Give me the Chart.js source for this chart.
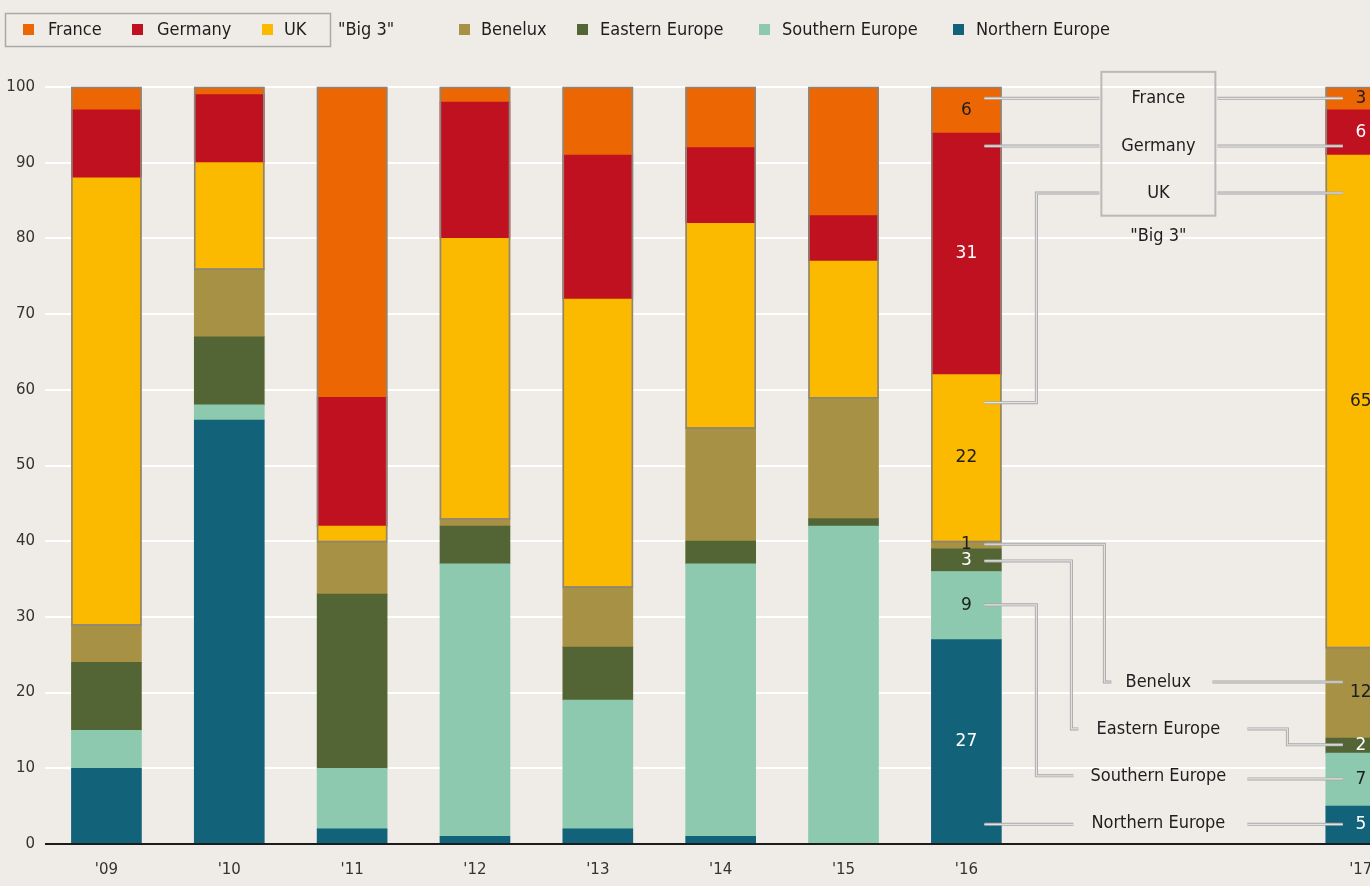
<!DOCTYPE html>
<html><head><meta charset="utf-8">
<script src="https://cdn.jsdelivr.net/npm/chart.js@4.4.0/dist/chart.umd.min.js"></script>
<style>
html,body{margin:0;padding:0;background:#EFEBE7;overflow:hidden;}
#wrap{position:relative;width:1370px;height:886px;overflow:hidden;}
canvas{position:absolute;left:0;top:0;}
</style></head><body>
<div id="wrap"><canvas id="c" width="1410" height="886" style="width:1410px;height:886px"></canvas></div>
<script>
// ---- data ----
const years    = ["'09","'10","'11","'12","'13","'14","'15","'16","'17"];
const france   = [3, 1, 41, 2, 9, 8, 17, 6.1, 3];
const germany  = [9, 9, 17, 18, 19, 10, 6, 31.9, 6];
const uk       = [59, 14, 2, 37, 38, 27, 18, 22, 65];
const benelux  = [5, 9, 7, 1, 8, 15, 16, 1, 12];
const eastern  = [9, 9, 23, 5, 7, 3, 1, 3, 2];
const southern = [5, 2, 8, 36, 17, 36, 42, 9, 7];
const northern = [10, 56, 2, 1, 2, 1, 0, 27, 5];
const yTicks = [0,10,20,30,40,50,60,70,80,90,100];

const COND = '"DejaVu Sans Condensed","Liberation Sans Narrow","Roboto",sans-serif';
const NUMF = '"DejaVu Sans","Verdana",sans-serif';

const C = {
  france:'#EC6703', germany:'#BF111F', uk:'#FBBA00', benelux:'#A69144',
  eastern:'#536535', southern:'#8CC9AE', northern:'#12627A'
};

// layout of the category axes: '09–'16 on the main axis (plus blank slots),
// the cut-off '17 column on a second, hidden category axis
const MAIN_N = 8, MAIN_SLOTS = 11, SIDE_SLOTS = 19, SIDE_IDX = 18;
const mainLabels = years.slice(0, MAIN_N).concat(Array(MAIN_SLOTS - MAIN_N).fill(''));
const sideLabels = Array(SIDE_SLOTS).fill('').map((s,i)=> i===SIDE_IDX ? years[MAIN_N] : '');

const series = [
  {label:'Northern Europe', data:northern, color:C.northern, txt:'#ffffff', big3:false},
  {label:'Southern Europe', data:southern, color:C.southern, txt:'#1e1e1e', big3:false},
  {label:'Eastern Europe',  data:eastern,  color:C.eastern,  txt:'#ffffff', big3:false},
  {label:'Benelux',         data:benelux,  color:C.benelux,  txt:'#1e1e1e', big3:false},
  {label:'UK',              data:uk,       color:C.uk,       txt:'#1e1e1e', big3:true},
  {label:'Germany',         data:germany,  color:C.germany,  txt:'#ffffff', big3:true},
  {label:'France',          data:france,   color:C.france,   txt:'#1e1e1e', big3:true}
];

const datasets = [];
series.forEach(s=>{
  datasets.push({label:s.label, data:s.data.slice(0, MAIN_N), xAxisID:'x', grouped:false,
    backgroundColor:s.color, barThickness:70, borderWidth:0, txt:s.txt, big3:s.big3, grp:'main'});
});
series.forEach(s=>{
  const d = Array(SIDE_SLOTS).fill(null); d[SIDE_IDX] = s.data[MAIN_N];
  datasets.push({label:s.label+" '17", data:d, xAxisID:'x2', grouped:false,
    backgroundColor:s.color, barThickness:70, borderWidth:0, txt:s.txt, big3:s.big3, grp:'side'});
});

function leader(ctx, pts){
  ctx.save();
  ctx.lineJoin='miter'; ctx.lineCap='butt';
  ctx.beginPath();
  pts.forEach((p,i)=> i?ctx.lineTo(p[0],p[1]):ctx.moveTo(p[0],p[1]));
  ctx.strokeStyle='#a8a8a8'; ctx.lineWidth=3; ctx.stroke();
  ctx.strokeStyle='#e2e2e2'; ctx.lineWidth=1.2; ctx.stroke();
  ctx.restore();
}

const plugin = {
  id:'custom',
  afterDatasetsDraw(chart){
    const ctx = chart.ctx, ys = chart.scales.y, xs = chart.scales.x, x2 = chart.scales.x2;
    const Y = v => ys.getPixelForValue(v);
    const dsets = chart.data.datasets;
    const columns = [];
    for(let i=0;i<MAIN_N;i++) columns.push({grp:'main', idx:i, labelled: i===MAIN_N-1});
    columns.push({grp:'side', idx:SIDE_IDX, labelled:true});
    // big-3 outlines
    columns.forEach(col=>{
      let low=0, tot=0, el0=null;
      dsets.forEach((d,di)=>{
        if(d.grp!==col.grp) return;
        const v = d.data[col.idx];
        tot+=v; if(!d.big3) low+=v;
        if(!el0) el0 = chart.getDatasetMeta(di).data[col.idx];
      });
      const w = el0.width;
      ctx.save();
      ctx.strokeStyle='#8d857a'; ctx.lineWidth=1.6;
      ctx.strokeRect(el0.x-w/2+0.5, Y(tot)+0.5, w-1, Y(low)-Y(tot));
      ctx.restore();
    });
    // zero line
    ctx.save();
    ctx.strokeStyle='#1c1c1c'; ctx.lineWidth=2;
    ctx.beginPath(); ctx.moveTo(chart.chartArea.left, Y(0)); ctx.lineTo(chart.chartArea.right, Y(0)); ctx.stroke();
    ctx.restore();
    // value labels
    ctx.save();
    ctx.font = '17px '+NUMF; ctx.textAlign='center'; ctx.textBaseline='middle';
    columns.filter(c=>c.labelled).forEach(col=>{
      dsets.forEach((d,di)=>{
        if(d.grp!==col.grp) return;
        const el = chart.getDatasetMeta(di).data[col.idx];
        ctx.fillStyle = d.txt;
        ctx.fillText(String(Math.floor(d.data[col.idx]+1e-9)), el.x, (el.y+el.base)/2);
      });
    });
    ctx.restore();
    // '17 tick label (side axis is hidden)
    const x16 = xs.getPixelForValue(MAIN_N-1);
    const x17 = x2.getPixelForValue(SIDE_IDX);
    ctx.save();
    ctx.font='15px '+NUMF; ctx.fillStyle='#333'; ctx.textAlign='center'; ctx.textBaseline='middle';
    ctx.fillText(sideLabels[SIDE_IDX], x17, Y(0)+26);
    ctx.restore();
    // annotations
    const mid = x16 + 192;
    const L = x16+18, R = x17-18;
    ctx.save();
    ctx.strokeStyle='#b9b9b9'; ctx.lineWidth=2;
    ctx.strokeRect(mid-57, Y(102), 114, Y(83)-Y(102));
    ctx.restore();
    leader(ctx, [[L,Y(98.5)],[mid-59,Y(98.5)]]);
    leader(ctx, [[L,Y(92.2)],[mid-59,Y(92.2)]]);
    leader(ctx, [[mid-59,Y(86)],[mid-122,Y(86)],[mid-122,Y(58.3)],[L,Y(58.3)]]);
    leader(ctx, [[mid+59,Y(98.5)],[R,Y(98.5)]]);
    leader(ctx, [[mid+59,Y(92.2)],[R,Y(92.2)]]);
    leader(ctx, [[mid+59,Y(86)],[R,Y(86)]]);
    leader(ctx, [[L,Y(39.6)],[mid-54,Y(39.6)],[mid-54,Y(21.4)],[mid-47,Y(21.4)]]);
    leader(ctx, [[L,Y(37.4)],[mid-87,Y(37.4)],[mid-87,Y(15.2)],[mid-80,Y(15.2)]]);
    leader(ctx, [[L,Y(31.6)],[mid-122,Y(31.6)],[mid-122,Y(9.0)],[mid-85,Y(9.0)]]);
    leader(ctx, [[L,Y(2.6)],[mid-85,Y(2.6)]]);
    leader(ctx, [[mid+54,Y(21.4)],[R,Y(21.4)]]);
    leader(ctx, [[mid+89,Y(15.2)],[mid+129,Y(15.2)],[mid+129,Y(13.1)],[R,Y(13.1)]]);
    leader(ctx, [[mid+89,Y(8.6)],[R,Y(8.6)]]);
    leader(ctx, [[mid+89,Y(2.6)],[R,Y(2.6)]]);
    ctx.save();
    ctx.font='18px '+COND; ctx.fillStyle='#1e1e1e'; ctx.textAlign='center'; ctx.textBaseline='middle';
    ctx.fillText('France', mid, Y(98.5));
    ctx.fillText('Germany', mid, Y(92.2));
    ctx.fillText('UK', mid, Y(86));
    ctx.fillText('"Big 3"', mid, Y(80.3));
    ctx.fillText('Benelux', mid, Y(21.4));
    ctx.fillText('Eastern Europe', mid, Y(15.2));
    ctx.fillText('Southern Europe', mid, Y(9.0));
    ctx.fillText('Northern Europe', mid, Y(2.7));
    ctx.restore();
  },
  afterDraw(chart){
    const ctx = chart.ctx;
    ctx.save();
    ctx.strokeStyle='#a9a9a9'; ctx.lineWidth=1.5;
    ctx.strokeRect(5.5, 13.5, 325, 33);
    const items = [
      ['France', C.france, 23, 48], ['Germany', C.germany, 132, 157], ['UK', C.uk, 262, 284],
      ['Benelux', C.benelux, 459, 481], ['Eastern Europe', C.eastern, 577, 600],
      ['Southern Europe', C.southern, 759, 782], ['Northern Europe', C.northern, 953, 976]
    ];
    ctx.font='18px '+COND; ctx.textBaseline='middle'; ctx.textAlign='left';
    items.forEach(it=>{
      ctx.fillStyle=it[1]; ctx.fillRect(it[2], 24, 11, 11);
      ctx.fillStyle='#1e1e1e'; ctx.fillText(it[0], it[3], 30);
    });
    ctx.fillText('"Big 3"', 338, 30);
    ctx.restore();
  }
};

new Chart(document.getElementById('c'), {
  type:'bar',
  data:{labels:mainLabels, datasets},
  plugins:[plugin],
  options:{
    responsive:false, animation:false, devicePixelRatio:1,
    layout:{padding:{top:87, right:13.65, left:0, bottom:0}},
    plugins:{legend:{display:false}, tooltip:{enabled:false}},
    scales:{
      x:{type:'category', labels:mainLabels, stacked:true, grid:{display:false, drawTicks:false}, border:{display:false},
         ticks:{color:'#333', font:{family:NUMF, size:15}, padding:17, maxRotation:0, autoSkip:false},
         afterFit(s){ s.height = 42; }},
      x2:{type:'category', labels:sideLabels, stacked:true, display:false},
      y:{stacked:true, min:0, max:100,
         grid:{color:'#ffffff', lineWidth:2, drawTicks:false}, border:{display:false},
         afterBuildTicks(s){ s.ticks = yTicks.map(v=>({value:v})); },
         ticks:{color:'#333', font:{family:NUMF, size:15}, padding:10},
         afterFit(s){ s.width = 45; }}
    }
  }
});
</script>
</body></html>
